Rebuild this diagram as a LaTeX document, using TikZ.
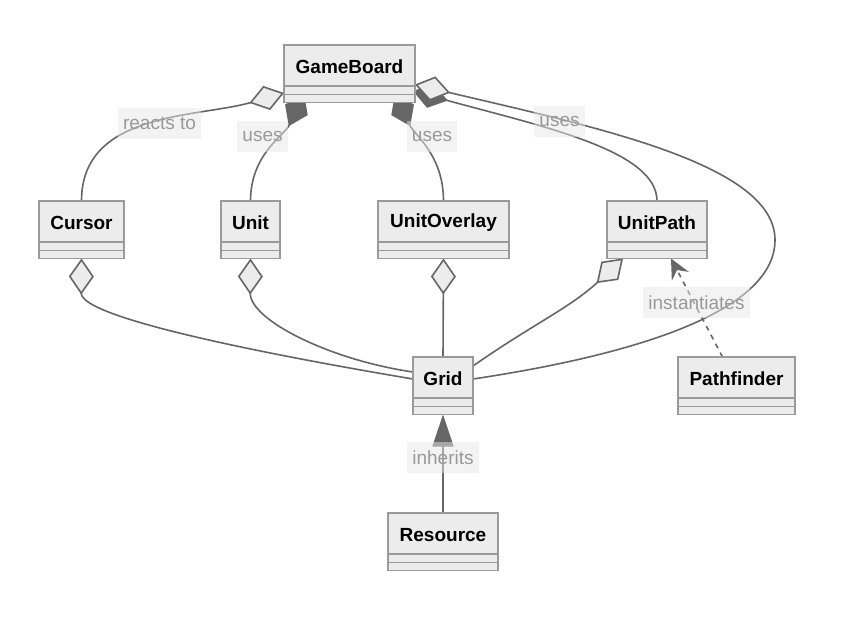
\documentclass[tikz,border=0pt]{standalone}
\usepackage{fontspec}
\setmainfont{Liberation Sans}
\usetikzlibrary{arrows.meta,calc}
\definecolor{boxfill}{HTML}{ECECEC}
\definecolor{boxline}{HTML}{9A9A9A}
\definecolor{edgecol}{HTML}{666666}
\definecolor{lblbg}{HTML}{E8E8E8}
\definecolor{lbltext}{HTML}{999999}
\pgfdeclarelayer{back}
\pgfdeclarelayer{bg}
\pgfsetlayers{back,bg,main}
\tikzset{
  clsbox/.style={draw=boxline, fill=boxfill, line width=1.5pt, minimum height=57.5, inner sep=0pt, outer sep=0pt, anchor=north west},
  clstitle/.style={minimum height=41, inner sep=0pt, outer sep=0pt, anchor=north west, yshift=-1.5pt, text=black, font=\bfseries\fontsize{19}{22}\selectfont},
  clssep/.style={draw=boxline, line width=1.5pt},
  edge/.style={draw=edgecol, line width=1.6pt},
  aggr/.style={-{Diamond[length=36pt,width=25pt,fill=boxfill]}},
  comp/.style={-{Diamond[length=36pt,width=25pt]}},
  inh/.style={-{Triangle[length=32pt,width=21pt]}},
  dep/.style={-{Stealth[length=20pt,width=19pt,inset=7pt]}},
  lbl/.style={fill=lblbg, fill opacity=0.5, text opacity=1, text=lbltext, inner xsep=5pt, inner ysep=0pt, minimum height=31, font=\fontsize{19}{22}\selectfont},
}
\newcommand\umlclass[5]{%
  \node[clsbox, minimum width=#4] (#1) at (#2,#3) {};
  \node[clstitle, minimum width=#4] (#1t) at (#2,#3) {#5};
  \draw[clssep] ($(#1.north west)+(0,41)$) -- ($(#1.north east)+(0,41)$);
  \draw[clssep] ($(#1.north west)+(0,49.5)$) -- ($(#1.north east)+(0,49.5)$);
}
\begin{document}
\begin{tikzpicture}[x=1pt,y=-1pt]
\begin{pgfonlayer}{back}
\fill[white] (0,0) rectangle (850,616);
\end{pgfonlayer}
\useasboundingbox (0,0) rectangle (850,616);

\umlclass{gb}{284}{45}{131}{GameBoard}
\umlclass{cursor}{39}{201}{85}{Cursor}
\umlclass{unit}{221}{201}{59}{Unit}
\umlclass{uo}{378}{201}{131}{UnitOverlay}
\umlclass{up}{607}{201}{100}{UnitPath}
\umlclass{grid}{413}{357}{60}{Grid}
\umlclass{pf}{678}{357}{117}{Pathfinder}
\umlclass{res}{388}{513}{110}{Resource}

\begin{pgfonlayer}{bg}
  % GameBoard relations
  \draw[edge, aggr] (cursor.north) to[out=90,in=196] ($(gb.north west)+(0,48)$);
  \draw[edge, comp] (unit.north) to[out=90,in=245] ($(gb.south west)+(20,-9)$);
  \draw[edge, comp] (uo.north) to[out=90,in=-65] ($(gb.south west)+(111,-9)$);
  \draw[edge, comp] (up.north) .. controls (657,150) and (540,126) .. ($(gb.north east)+(-2,46)$);
  \draw[edge, aggr] (gridt.east) .. controls (600,360) and (775,320) .. (775,240)
        .. controls (775,165) and (600,128) .. ($(gb.north east)+(0,39.5)$);
  % Grid relations
  \draw[edge, aggr] (gridt.west) .. controls (300,360) and (81,320) .. (cursor.south);
  \draw[edge, aggr] ($(gridt.west)+(0,-7)$) .. controls (330,360) and (250,320) .. (unit.south);
  \draw[edge, aggr] (grid.north) -- (uo.south);
  \draw[edge, aggr] ($(grid.north east)+(0,9)$) to[out=35,in=223] ($(up.south west)+(16,0)$);
  % Pathfinder
  \draw[edge, dep, dash pattern=on 5pt off 5pt] ($(pf.north)+(-14,0)$) -- ($(up.south)+(14,0)$);
  % Resource
  \draw[edge, inh] (res.north) -- (grid.south);
\end{pgfonlayer}

\node[lbl] (l1) at (159.5,123.5) {reacts to};
\node[lbl] (l2) at (262.5,136.5) {uses};
\node[lbl] (l3) at (432,136.5) {uses};
\node[lbl] (l4) at (559.5,121.5) {uses};
\node[lbl] (l5) at (696.5,302.5) {instantiates};
\node[lbl] (l6) at (443,457.5) {inherits};
\end{tikzpicture}
\end{document}
